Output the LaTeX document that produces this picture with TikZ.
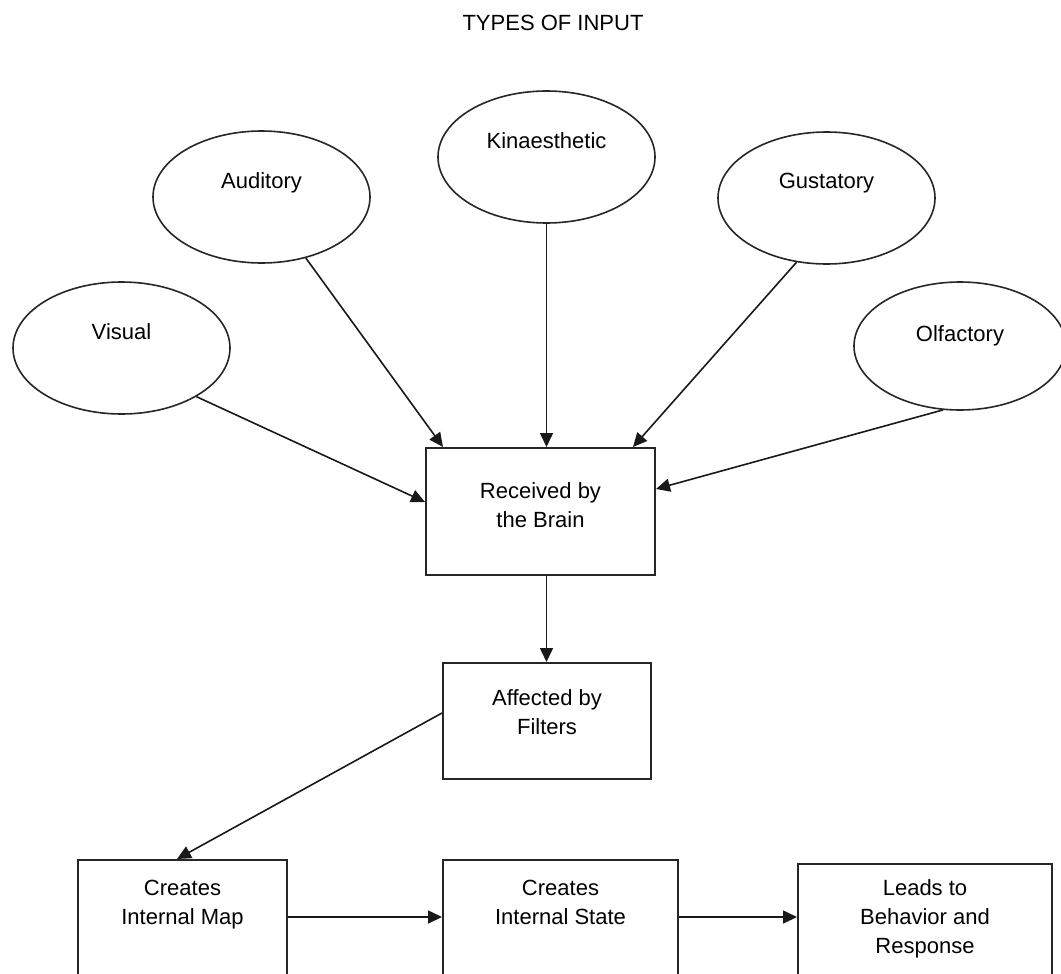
\documentclass[tikz,border=0pt]{standalone}
\usepackage{fontspec}
\setmainfont{Liberation Sans}
\usetikzlibrary{%
  positioning,
  arrows.meta,
  shapes.geometric,
}

\begin{document}
\begin{tikzpicture}[%
           x=1pt, y=-1pt,
           font=\fontsize{22}{29}\selectfont,
           sense/.style={
             % The shape:
             ellipse,
             % The size:
             minimum width=217pt,
             minimum height=132pt,
             % The border:
             line width=1.6pt,
             draw=black!85,
           },
           stage/.style={
             % The shape:
             rectangle,
             % The size (width is given per box):
             minimum height=120pt,
             % The border:
             line width=2pt,
             draw=black!85,
           },
           every label/.style={
             inner sep=0pt,
             align=center,
           },
           flow/.style={
             -{Triangle[length=14pt,width=13pt]},
             line width=1.6pt,
             color=black!90,
           }]

         % the page, the bottom row runs off it
         \useasboundingbox (0,0) rectangle (1061,974);
         \clip (0,0) rectangle (1061,974);

         \node[inner sep=0pt] (title) at (553,23) {TYPES OF INPUT};

         % the five senses
         \node[sense, label={[below=42pt]north:Visual}] (visual) at (121.5,348) {};
         \node[sense, label={[below=42pt]north:Auditory}] (auditory) at (261.5,197) {};
         \node[sense, label={[below=42pt]north:Kinaesthetic}] (kinaes) at (546.5,157) {};
         \node[sense, label={[below=42pt]north:Gustatory}] (gustatory) at (826.5,198) {};
         \node[sense, minimum width=212pt, minimum height=128pt,
               label={[below=44pt]north:Olfactory}] (olfactory) at (960,346) {};

         % the chain of stages
         \node[stage, minimum width=229pt, minimum height=127pt,
               label={[below=35.5pt]north:{Received by\\the Brain}}] (brain) at (540.5,511.5) {};
         \node[stage, minimum width=208pt, minimum height=116pt,
               label={[below=27pt]north:{Affected by\\Filters}}] (filters) [below=86pt of brain, xshift=6.5pt] {};
         \node[stage, minimum width=235pt,
               label={[below=20.5pt]north:{Creates\\Internal State}}] (state) [below=79pt of filters, xshift=13.5pt] {};
         \node[stage, minimum width=209pt,
               label={[below=20.5pt]north:{Creates\\Internal Map}}] (map) [left=154pt of state] {};
         \node[stage, minimum width=254pt,
               label={[below=16.5pt]north:{Leads to\\Behavior and\\Response}}] (behave) [right=118pt of state, yshift=-4pt] {};

         \draw[flow] (visual.-33) -- ([yshift=9.5pt]brain.west);
         \draw[flow] (auditory.-54) -- ([xshift=-97.5pt]brain.north);
         \draw[flow] (kinaes.south) -- (kinaes.south |- brain.north);
         \draw[flow] (gustatory.-115) -- ([xshift=92.5pt]brain.north);
         \draw[flow] (olfactory.-105) -- ([yshift=22.5pt]brain.east);

         \draw[flow] (kinaes.south |- brain.south) -- (kinaes.south |- filters.north);
         \draw[flow] ([yshift=8pt]filters.west) -- ([xshift=-5.5pt]map.north);

         \coordinate (mapout) at ([yshift=3pt]map.east);
         \coordinate (stateout) at ([yshift=3pt]state.east);
         \draw[flow] (mapout) -- (mapout -| state.west);
         \draw[flow] (stateout) -- (stateout -| behave.west);

     \end{tikzpicture}
\end{document}
